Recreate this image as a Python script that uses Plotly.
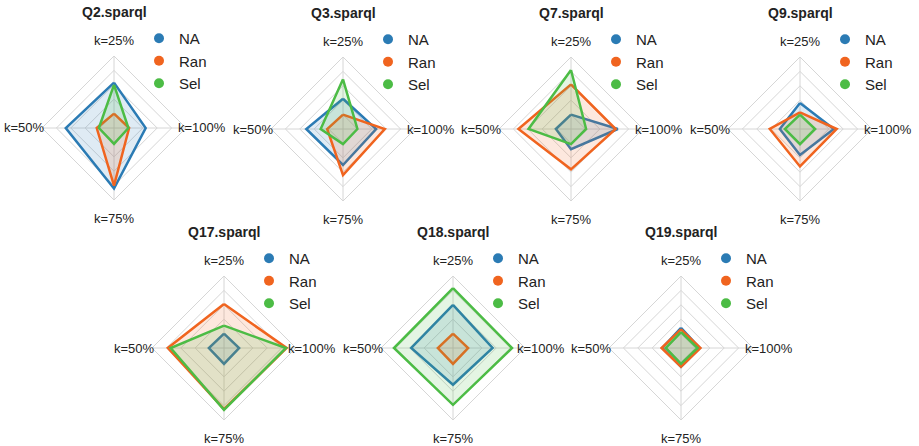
import plotly.graph_objects as go

queries = ["Q2.sparql", "Q3.sparql", "Q7.sparql", "Q9.sparql", "Q17.sparql", "Q18.sparql", "Q19.sparql"]
axes_labels = ["k=25%", "k=50%", "k=75%", "k=100%"]
series_names = ["NA", "Ran", "Sel"]

# values per query in order [k=25%, k=50%, k=75%, k=100%]
na_values = [
    [0.63, 0.67, 0.84, 0.44],
    [0.42, 0.51, 0.50, 0.46],
    [0.20, 0.21, 0.28, 0.65],
    [0.36, 0.28, 0.36, 0.47],
    [0.20, 0.21, 0.22, 0.21],
    [0.60, 0.58, 0.51, 0.55],
    [0.28, 0.26, 0.26, 0.26],
]
ran_values = [
    [0.20, 0.24, 0.80, 0.21],
    [0.20, 0.22, 0.64, 0.58],
    [0.62, 0.73, 0.56, 0.62],
    [0.23, 0.42, 0.52, 0.51],
    [0.61, 0.78, 0.85, 0.87],
    [0.20, 0.21, 0.22, 0.21],
    [0.26, 0.27, 0.26, 0.27],
]
sel_values = [
    [0.60, 0.21, 0.22, 0.20],
    [0.69, 0.31, 0.21, 0.20],
    [0.82, 0.59, 0.21, 0.21],
    [0.20, 0.21, 0.21, 0.21],
    [0.31, 0.74, 0.86, 0.86],
    [0.83, 0.82, 0.79, 0.82],
    [0.22, 0.21, 0.22, 0.23],
]

colors = ["#2b7bb4", "#f0641f", "#4cbc45"]
fills = ["rgba(43,123,180,0.15)", "rgba(240,100,31,0.15)", "rgba(76,188,69,0.15)"]

W, H = 919, 446
centres = [(114, 128), (343, 129), (571, 129), (800, 129), (224, 348), (453, 348), (681, 348)]
R = 72
# label offsets (dx, dy in px, screen coords) for each angular category
label_offsets = {"k=25%": (0, -88), "k=50%": (-90, 0), "k=75%": (0, 90), "k=100%": (88, 0)}

FONT = "Liberation Sans, Arial, Helvetica, sans-serif"
fig = go.Figure()
layout_updates = {}
annotations = []
all_values = [na_values, ran_values, sel_values]

for i, q in enumerate(queries):
    pname = "polar" if i == 0 else f"polar{i+1}"
    lname = "legend" if i == 0 else f"legend{i+1}"
    cx, cy = centres[i]
    for s, name in enumerate(series_names):
        vals = all_values[s][i]
        fig.add_trace(go.Scatterpolar(
            r=vals + [vals[0]], theta=axes_labels + [axes_labels[0]],
            mode="lines", fill="toself", fillcolor=fills[s],
            line=dict(color=colors[s], width=2.5),
            subplot=pname, showlegend=False, hoverinfo="skip"))
    for s, name in enumerate(series_names):
        fig.add_trace(go.Scatterpolar(
            r=[None], theta=[None], mode="markers", name=name,
            marker=dict(color=colors[s], size=10),
            subplot=pname, legend=lname, showlegend=True))
    layout_updates[pname] = dict(
        domain=dict(x=[(cx - R) / W, (cx + R) / W], y=[1 - (cy + R) / H, 1 - (cy - R) / H]),
        bgcolor="white",
        gridshape="linear",
        radialaxis=dict(range=[0, 1], tickvals=[0.2, 0.4, 0.6, 0.8, 1.0], showticklabels=False,
                        ticks="", showline=False, gridcolor="#d6d6d6", gridwidth=1),
        angularaxis=dict(rotation=90, direction="counterclockwise", categoryarray=axes_labels,
                         categoryorder="array", showline=True, linecolor="#d6d6d6", linewidth=1,
                         gridcolor="#d6d6d6", ticks="", showticklabels=False),
    )
    layout_updates[lname] = dict(
        x=(cx + 25) / W, y=1 - (cy - 106) / H, xanchor="left", yanchor="top",
        font=dict(size=15, color="#222", family=FONT), bgcolor="rgba(0,0,0,0)",
        itemwidth=30, tracegroupgap=0)
    annotations.append(dict(text=f"<b>{q}</b>", x=cx / W, y=1 - (cy - 116) / H,
                            xref="paper", yref="paper", showarrow=False,
                            xanchor="center", yanchor="middle",
                            font=dict(size=14, color="#222", family=FONT)))
    for lab in axes_labels:
        ox, oy = label_offsets[lab]
        annotations.append(dict(text=lab, x=(cx + ox) / W, y=1 - (cy + oy) / H,
                                xref="paper", yref="paper", showarrow=False,
                                xanchor="center", yanchor="middle",
                                font=dict(size=13, color="#222", family=FONT)))

fig.update_layout(width=W, height=H, margin=dict(l=0, r=0, t=0, b=0),
                  paper_bgcolor="white", plot_bgcolor="white",
                  annotations=annotations, **layout_updates)
fig.write_html("out.html", config={"displayModeBar": False},
               post_script="document.body.style.margin='0';document.body.style.overflow='hidden';")
